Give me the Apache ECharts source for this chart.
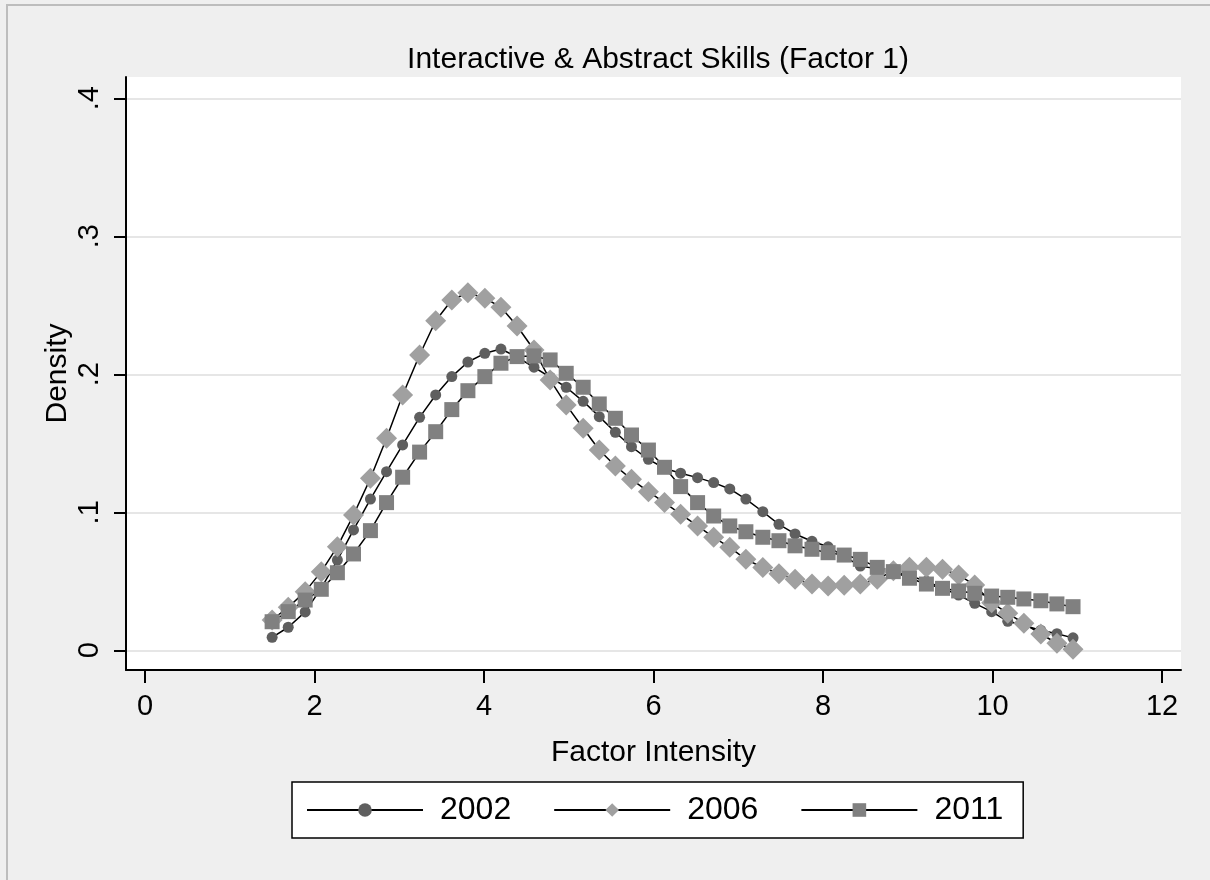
<!DOCTYPE html>
<html lang="en">
<head>
    <meta charset="UTF-8">
    <title>Interactive & Abstract Skills (Factor 1)</title>
    <script src="https://cdn.jsdelivr.net/npm/echarts@6.0.0/dist/echarts.min.js"></script>
    <style>
        html, body { margin: 0; padding: 0; background: #fff; }
        #main { width: 1210px; height: 880px; }
    </style>
</head>
<body>
<div id="main"></div>
<script>
    // kdensity evaluation points (factor intensity)
    var xPoints = [1.50, 1.69, 1.89, 2.08, 2.27, 2.46, 2.66, 2.85, 3.04, 3.24,
        3.43, 3.62, 3.81, 4.01, 4.20, 4.39, 4.59, 4.78, 4.97, 5.17,
        5.36, 5.55, 5.74, 5.94, 6.13, 6.32, 6.52, 6.71, 6.90, 7.09,
        7.29, 7.48, 7.67, 7.87, 8.06, 8.25, 8.44, 8.64, 8.83, 9.02,
        9.22, 9.41, 9.60, 9.79, 9.99, 10.18, 10.37, 10.57, 10.76, 10.95];

    var density2002 = [0.0094, 0.0167, 0.0278, 0.045, 0.0654, 0.0872, 0.1096, 0.1294, 0.1488, 0.1688,
        0.185, 0.1983, 0.2089, 0.2152, 0.2183, 0.2125, 0.2051, 0.198, 0.1906, 0.1804,
        0.1693, 0.158, 0.1475, 0.1384, 0.1319, 0.1283, 0.1251, 0.1215, 0.1169, 0.1096,
        0.1004, 0.0913, 0.0843, 0.079, 0.075, 0.068, 0.061, 0.059, 0.057, 0.054,
        0.050, 0.045, 0.040, 0.034, 0.028, 0.021, 0.018, 0.0145, 0.012, 0.009];

    var density2006 = [0.022, 0.0312, 0.0425, 0.057, 0.0751, 0.098, 0.1246, 0.1536, 0.185, 0.214,
        0.2388, 0.2538, 0.2591, 0.2551, 0.2486, 0.235, 0.2176, 0.1959, 0.1778, 0.1609,
        0.1451, 0.1336, 0.1239, 0.1149, 0.107, 0.0986, 0.0901, 0.0819, 0.0746, 0.0659,
        0.060, 0.0555, 0.0514, 0.048, 0.0466, 0.0471, 0.048, 0.0514, 0.0577, 0.0601,
        0.0601, 0.0587, 0.0546, 0.0473, 0.0345, 0.0268, 0.0196, 0.0118, 0.0051, 0.0007];

    var density2011 = [0.0207, 0.028, 0.0364, 0.0442, 0.0562, 0.0698, 0.0867, 0.107, 0.1254, 0.1436,
        0.1584, 0.1744, 0.1881, 0.1983, 0.208, 0.2128, 0.2133, 0.2104, 0.2007, 0.1906,
        0.1785, 0.1681, 0.156, 0.1451, 0.1326, 0.1186, 0.107, 0.0973, 0.0901, 0.0859,
        0.0819, 0.0794, 0.0757, 0.0732, 0.0707, 0.069, 0.0659, 0.0601, 0.057, 0.0522,
        0.048, 0.0449, 0.043, 0.0413, 0.0393, 0.0384, 0.0372, 0.0359, 0.0336, 0.0316];

    var xTicks = [0, 2, 4, 6, 8, 10, 12];
    var yTicks = [0, 0.1, 0.2, 0.3, 0.4];

    var FONT = '"Liberation Sans", Arial, sans-serif';

    function pairs(ys) {
        return xPoints.map(function (x, i) { return [x, ys[i]]; });
    }

    function makeSeries(name, ys, symbol, size, color) {
        return {
            name: name,
            type: 'line',
            data: pairs(ys),
            symbol: symbol,
            symbolSize: size,
            showAllSymbol: true,
            clip: false,
            lineStyle: { color: '#000', width: 1.5 },
            itemStyle: { color: color, borderWidth: 0 },
            emphasis: { disabled: true },
            animation: false
        };
    }

    var chart = echarts.init(document.getElementById('main'));

    var option = {
        backgroundColor: '#efefef',
        animation: false,
        textStyle: { fontFamily: FONT },
        title: {
            text: 'Interactive & Abstract Skills (Factor 1)',
            left: 653,
            textAlign: 'center',
            top: 40,
            textStyle: { fontFamily: FONT, fontSize: 30, fontWeight: 'normal', color: '#000' }
        },
        graphic: [{
            type: 'rect',
            shape: { x: 7, y: 5, width: 1300, height: 1000 },
            style: { fill: null, stroke: '#bdbdbd', lineWidth: 2 },
            silent: true,
            z: -1
        }],
        grid: {
            left: 126, right: 29, top: 77, bottom: 210,
            show: true, backgroundColor: '#fff', borderWidth: 0
        },
        legend: {
            left: 292,
            top: 782,
            orient: 'horizontal',
            itemWidth: 116,
            itemHeight: 17,
            itemGap: 42,
            padding: [12, 20, 12, 14],
            borderColor: '#000',
            borderWidth: 1.5,
            backgroundColor: '#fff',
            textStyle: { fontFamily: FONT, fontSize: 32, color: '#000', padding: [0, 0, 0, 12] },
            data: ['2002', '2006', '2011']
        },
        xAxis: {
            type: 'value',
            min: -0.2242,
            max: 12.224,
            name: 'Factor Intensity',
            nameLocation: 'middle',
            nameGap: 68,
            nameMoveOverlap: false,
            nameTextStyle: { fontFamily: FONT, fontSize: 30, color: '#000' },
            axisLine: { show: true, onZero: false, lineStyle: { color: '#000', width: 2 } },
            axisTick: { show: true, length: 13, lineStyle: { color: '#000', width: 2 }, customValues: xTicks },
            axisLabel: { customValues: xTicks, fontSize: 29, color: '#000', margin: 22, fontFamily: FONT },
            splitLine: { show: false }
        },
        yAxis: {
            type: 'value',
            min: -0.01428,
            max: 0.4154,
            name: 'Density',
            nameLocation: 'middle',
            nameGap: 53,
            nameMoveOverlap: false,
            nameTextStyle: { fontFamily: FONT, fontSize: 30, color: '#000' },
            axisLine: { show: true, onZero: false, lineStyle: { color: '#000', width: 2 } },
            axisTick: { show: true, length: 12, lineStyle: { color: '#000', width: 2 }, customValues: yTicks },
            axisLabel: {
                customValues: yTicks,
                rotate: 90,
                fontSize: 29,
                color: '#000',
                margin: 22,
                fontFamily: FONT,
                formatter: function (v) { return v === 0 ? '0' : String(v).replace(/^0/, ''); }
            },
            splitLine: { show: true, lineStyle: { color: '#e6e6e6', width: 2 } }
        },
        series: [
            makeSeries('2002', density2002, 'circle', 11, '#5f5f5f'),
            makeSeries('2006', density2006, 'diamond', 21, '#a0a0a0'),
            makeSeries('2011', density2011, 'rect', 15, '#808080')
        ]
    };

    chart.setOption(option);
</script>
</body>
</html>
